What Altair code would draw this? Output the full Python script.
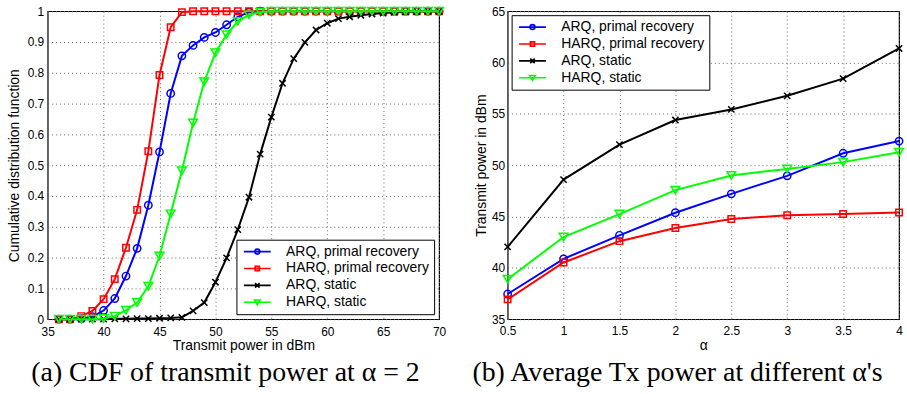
import altair as alt
import pandas as pd

# ---------------- data: (a) CDF at alpha = 2 ----------------
power = list(range(36, 71))
cdf_arq_pr = [0, 0, 0.002, 0.008, 0.028, 0.067, 0.14, 0.23, 0.37, 0.543, 0.733, 0.855,
              0.889, 0.915, 0.931, 0.956, 0.982, 0.997] + [1] * 17
cdf_harq_pr = [0, 0, 0.01, 0.027, 0.065, 0.13, 0.232, 0.355, 0.545, 0.793, 0.948, 0.997] + [1] * 23
cdf_arq_st = [0, 0, 0, 0, 0, 0.001, 0.001, 0.002, 0.002, 0.003, 0.004, 0.006, 0.027, 0.054,
              0.12, 0.199, 0.291, 0.396, 0.536, 0.656, 0.766, 0.846, 0.899, 0.939, 0.961,
              0.976, 0.982, 0.987, 0.991, 0.994, 0.996, 0.998, 0.999, 1, 1]
cdf_harq_st = [0, 0, 0, 0, 0.002, 0.01, 0.029, 0.054, 0.107, 0.205, 0.342, 0.482, 0.637,
               0.771, 0.865, 0.924, 0.967, 0.988, 0.997] + [1] * 16

# ---------------- data: (b) average Tx power vs alpha ----------------
alpha = [0.5, 1, 1.5, 2, 2.5, 3, 3.5, 4]
avg_arq_pr = [37.45, 40.88, 43.17, 45.37, 47.21, 48.96, 51.16, 52.35]
avg_harq_pr = [36.93, 40.52, 42.6, 43.89, 44.76, 45.12, 45.24, 45.4]
avg_arq_st = [42.04, 48.6, 52.0, 54.4, 55.43, 56.76, 58.43, 61.37]
avg_harq_st = [38.9, 43.0, 45.24, 47.57, 49.0, 49.64, 50.3, 51.26]

series = ["ARQ, primal recovery", "HARQ, primal recovery", "ARQ, static", "HARQ, static"]
colors = ["#0000ff", "#ff0000", "#000000", "#00ff00"]

x_path = "M-1,-1L1,1M-1,1L1,-1"
marker = {
    "ARQ, primal recovery": ("circle", 55),
    "HARQ, primal recovery": ("square", 42),
    "ARQ, static": (x_path, 40),
    "HARQ, static": ("triangle-down", 75),
}
legend_paths = [
    "M-3,0L3,0M0.55,0A0.55,0.55 0 1,1 -0.55,0A0.55,0.55 0 1,1 0.55,0",
    "M-3,0L3,0M-0.48,-0.48L0.48,-0.48L0.48,0.48L-0.48,0.48Z",
    "M-3,0L3,0M-0.5,-0.5L0.5,0.5M-0.5,0.5L0.5,-0.5",
    "M-3,0L3,0M-0.62,-0.5L0.62,-0.5L0,0.58Z",
]


def long_df(xs, cols):
    rows = []
    for s, ys in zip(series, cols):
        for xv, yv in zip(xs, ys):
            rows.append({"x": xv, "y": yv, "series": s})
    return pd.DataFrame(rows)


df_a = long_df(power, [cdf_arq_pr, cdf_harq_pr, cdf_arq_st, cdf_harq_st])
df_b = long_df(alpha, [avg_arq_pr, avg_harq_pr, avg_arq_st, avg_harq_st])

cscale = alt.Scale(domain=series, range=colors)
sscale = alt.Scale(domain=series, range=legend_paths)
SANS = "Liberation Sans"


def make_legend(orient, offset):
    return alt.Legend(
        title=None, orient=orient, offset=offset,
        fillColor="white", strokeColor="black", cornerRadius=0, padding=5,
        labelFont=SANS, labelFontSize=14, labelColor="black",
        symbolSize=81, symbolStrokeWidth=1.6, symbolOffset=9, labelOffset=22,
        symbolFillColor="transparent", rowPadding=3,
    )


def panel(df, xscale, yscale, xaxis, yaxis, legend, caption, cap_dx):
    x = alt.X("x:Q", scale=xscale, axis=xaxis)
    y = alt.Y("y:Q", scale=yscale, axis=yaxis)
    color = alt.Color("series:N", scale=cscale, legend=legend)
    # legend-only layer (no rows drawn): gives the legend its line+marker symbols
    layers = [
        alt.Chart(df).transform_filter("false")
        .mark_point(filled=False, opacity=1)
        .encode(x=x, y=y, color=color,
                shape=alt.Shape("series:N", scale=sscale, legend=legend))
    ]
    for s in series:
        base = alt.Chart(df).transform_filter(alt.datum.series == s)
        layers.append(base.mark_line(strokeWidth=2).encode(x=x, y=y, color=color))
        shp, sz = marker[s]
        layers.append(base.mark_point(shape=shp, size=sz, filled=False, strokeWidth=1.5,
                                      opacity=1).encode(x=x, y=y, color=color))
    return alt.layer(*layers).properties(
        width=394, height=310,
        title=alt.TitleParams(caption, orient="bottom", anchor="middle",
                              font="Liberation Serif", fontSize=28, fontWeight="normal",
                              color="black", offset=6, dx=cap_dx),
    )


left = panel(
    df_a,
    alt.Scale(domain=[35, 70], nice=False, zero=False),
    alt.Scale(domain=[0, 1], nice=False),
    alt.Axis(title="Transmit power in dBm", values=list(range(35, 71, 5)), format="d",
             labelPadding=7, titlePadding=2),
    alt.Axis(title="Cumulative distribution function",
             values=[0, 0.1, 0.2, 0.3, 0.4, 0.5, 0.6, 0.7, 0.8, 0.9, 1], format="~g",
             labelPadding=4, titlePadding=6),
    make_legend("bottom-right", 5),
    "(a) CDF of transmit power at α = 2", -18,
)

right = panel(
    df_b,
    alt.Scale(domain=[0.5, 4], nice=False, zero=False),
    alt.Scale(domain=[35, 65], nice=False, zero=False),
    alt.Axis(title="α", values=alpha, format="~g", labelPadding=6, titlePadding=3),
    alt.Axis(title="Transmit power in dBm", values=list(range(35, 66, 5)), format="d",
             titlePadding=3),
    make_legend("top-left", 4),
    "(b) Average Tx power at different α's", -26,
)

chart = (
    alt.hconcat(left, right, spacing=69, bounds="flush")
    .resolve_scale(color="independent", shape="independent")
    .properties(padding={"left": 6, "top": 2, "right": 0, "bottom": 0}, background="white")
    .configure_view(stroke="black", strokeWidth=1.2)
    .configure_axis(
        grid=True, gridDash=[1, 3], gridColor="#666666", gridWidth=1,
        domain=False, ticks=False, labelFlush=False, labelOverlap=False,
        labelFont=SANS, labelFontSize=12, labelColor="black", labelPadding=3,
        titleFont=SANS, titleFontSize=14, titleFontWeight="normal", titleColor="black",
    )
)

chart.save("out.html", embed_options={"renderer": "svg", "actions": False})
